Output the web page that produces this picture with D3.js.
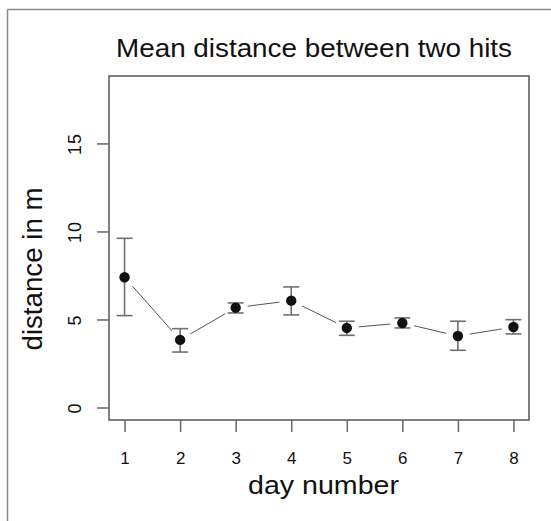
<!DOCTYPE html>
<html>
<head>
<meta charset="utf-8">
<script src="https://cdn.jsdelivr.net/npm/d3@7/dist/d3.min.js"></script>
<style>
  html, body { margin: 0; padding: 0; background: #fff; }
  svg { display: block; }
  text { font-family: "Liberation Sans", "DejaVu Sans", sans-serif; fill: #111; }
  .tick text { font-size: 17px; }
  .yaxis .tick text { font-size: 18px; letter-spacing: 1px; }
</style>
</head>
<body>
<script>
// Mean distance per day with error bars
const days = [1, 2, 3, 4, 5, 6, 7, 8];
const meanDist = [7.40, 3.84, 5.67, 6.07, 4.52, 4.80, 4.06, 4.57];
const lowerDist = [5.22, 3.15, 5.37, 5.26, 4.10, 4.52, 3.25, 4.18];
const upperDist = [9.61, 4.48, 5.94, 6.85, 4.90, 5.09, 4.90, 4.99];
const yTicks = [0, 5, 10, 15];
const xTicks = days;

const W = 551, H = 521;
const plot = { left: 109, right: 529, top: 76, bottom: 420 };

const svg = d3.select("body").append("svg")
  .attr("width", W).attr("height", H);

// frame edges of the figure
svg.append("line").attr("x1", 7.5).attr("x2", W).attr("y1", 9.5).attr("y2", 9.5)
  .attr("stroke", "#8a8a8a").attr("stroke-width", 1.5);
svg.append("line").attr("x1", 7.5).attr("x2", 7.5).attr("y1", 9.5).attr("y2", H)
  .attr("stroke", "#8a8a8a").attr("stroke-width", 1.5);

const x = d3.scaleLinear().domain([0.72, 8.28]).range([plot.left, plot.right]);
const y = d3.scaleLinear().domain([-0.71, 18.83]).range([plot.bottom, plot.top]);

// plot box
svg.append("rect")
  .attr("x", plot.left).attr("y", plot.top)
  .attr("width", plot.right - plot.left).attr("height", plot.bottom - plot.top)
  .attr("fill", "none").attr("stroke", "#555").attr("stroke-width", 1.5);

// x axis
const xAxis = svg.append("g")
  .attr("transform", `translate(0,${plot.bottom})`)
  .call(d3.axisBottom(x).tickValues(xTicks).tickSize(12).tickPadding(20).tickFormat(d3.format("d")));
xAxis.attr("font-size", null).attr("font-family", null);
xAxis.select(".domain").remove();
xAxis.selectAll(".tick line").attr("stroke", "#666").attr("stroke-width", 1.5);
xAxis.selectAll(".tick text").attr("fill", "#111");

// y axis with rotated labels
const yAxis = svg.append("g")
  .attr("class", "yaxis")
  .attr("transform", `translate(${plot.left},0)`)
  .call(d3.axisLeft(y).tickValues(yTicks).tickSize(12).tickFormat(d3.format("d")));
yAxis.attr("font-size", null).attr("font-family", null);
yAxis.select(".domain").remove();
yAxis.selectAll(".tick line").attr("stroke", "#666").attr("stroke-width", 1.5);
yAxis.selectAll(".tick text")
  .attr("x", null).attr("dy", null)
  .attr("text-anchor", "middle")
  .attr("fill", "#111")
  .attr("transform", "translate(-28,0) rotate(-90)");

// connecting segments, broken around each point
const pts = days.map((d, i) => [x(d), y(meanDist[i])]);
const gap = 12;
const segs = [];
for (let i = 0; i < pts.length - 1; i++) {
  const [x0, y0] = pts[i], [x1, y1] = pts[i + 1];
  const len = Math.hypot(x1 - x0, y1 - y0);
  const ux = (x1 - x0) / len, uy = (y1 - y0) / len;
  segs.push([x0 + ux * gap, y0 + uy * gap, x1 - ux * gap, y1 - uy * gap]);
}
svg.append("g").selectAll("line").data(segs).join("line")
  .attr("x1", s => s[0]).attr("y1", s => s[1])
  .attr("x2", s => s[2]).attr("y2", s => s[3])
  .attr("stroke", "#555").attr("stroke-width", 1);

// error bars
const capHalf = 8;
const eb = svg.append("g").attr("stroke", "#707070").attr("stroke-width", 1.6);
days.forEach((d, i) => {
  const cx = x(d);
  eb.append("line").attr("x1", cx).attr("x2", cx)
    .attr("y1", y(lowerDist[i])).attr("y2", y(upperDist[i]));
  eb.append("line").attr("x1", cx - capHalf).attr("x2", cx + capHalf)
    .attr("y1", y(upperDist[i])).attr("y2", y(upperDist[i]));
  eb.append("line").attr("x1", cx - capHalf).attr("x2", cx + capHalf)
    .attr("y1", y(lowerDist[i])).attr("y2", y(lowerDist[i]));
});

// points
svg.append("g").selectAll("circle").data(days).join("circle")
  .attr("cx", d => x(d))
  .attr("cy", (d, i) => y(meanDist[i]))
  .attr("r", 5.2)
  .attr("fill", "#111");

// title and axis labels
svg.append("text")
  .attr("x", 314).attr("y", 57)
  .attr("text-anchor", "middle")
  .attr("font-size", 25)
  .attr("textLength", 396).attr("lengthAdjust", "spacingAndGlyphs")
  .text("Mean distance between two hits");

svg.append("text")
  .attr("x", 323.5).attr("y", 494)
  .attr("text-anchor", "middle")
  .attr("font-size", 25)
  .attr("textLength", 151).attr("lengthAdjust", "spacingAndGlyphs")
  .text("day number");

svg.append("text")
  .attr("transform", "translate(42,269) rotate(-90)")
  .attr("text-anchor", "middle")
  .attr("font-size", 27)
  .attr("textLength", 163).attr("lengthAdjust", "spacingAndGlyphs")
  .text("distance in m");
</script>
</body>
</html>
